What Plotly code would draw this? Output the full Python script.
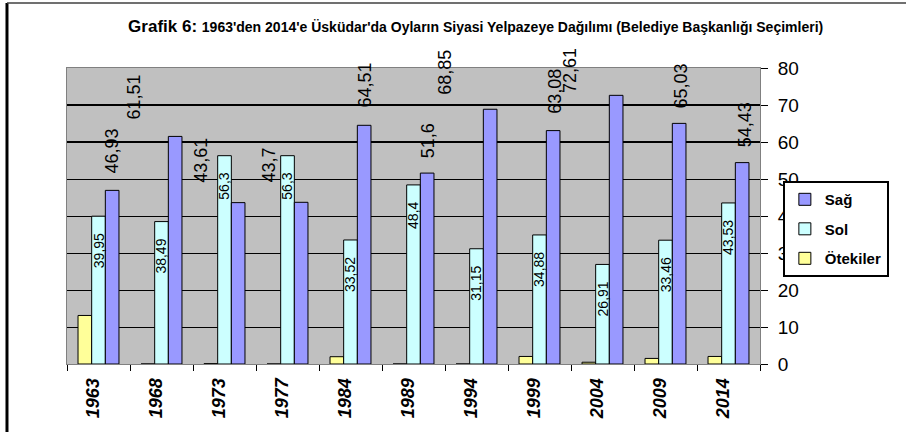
import plotly.graph_objects as go

# ---------------- data ----------------
years = ['1963', '1968', '1973', '1977', '1984', '1989', '1994', '1999', '2004', '2009', '2014']
sag = [46.93, 61.51, 43.61, 43.7, 64.51, 51.6, 68.85, 63.08, 72.61, 65.03, 54.43]
sol = [39.95, 38.49, 56.3, 56.3, 33.52, 48.4, 31.15, 34.88, 26.91, 33.46, 43.53]
otekiler = [13.12, 0, 0.09, 0, 1.97, 0, 0, 2.04, 0.48, 1.51, 2.04]
y_ticks = [0, 10, 20, 30, 40, 50, 60, 70, 80]
heavy_grid = [60, 70]

series_names = ['Sağ', 'Sol', 'Ötekiler']
title_main = 'Grafik 6:'
title_rest = "1963'den 2014'e Üsküdar'da Oyların Siyasi Yelpazeye Dağılımı (Belediye Başkanlığı Seçimleri)"

# ---------------- style ----------------
FONT = 'Liberation Sans, Arial, sans-serif'
C_SAG = '#9999FF'
C_SOL = '#CCFFFF'
C_OTE = '#FFFF99'
BG = '#C0C0C0'

# label offsets (pixels) reproducing the original label placement
sag_label_dx = [-0.5, -41.5, -36.5, -32.5, 0.5, 0.5, -45, 1.5, -46, 1.5, 3]
sag_label_gap = [15, 15, 18, 18, 16, 13, 12, 15, 0, 13, 13]
SAG_BAR_OFFSET = 13.6
SOL_LABEL_GAP = 15


def fmt(v):
    return f'{v:g}'.replace('.', ',')


fig = go.Figure()
for rank, name, vals, col in [(3, series_names[2], otekiler, C_OTE),
                              (2, series_names[1], sol, C_SOL),
                              (1, series_names[0], sag, C_SAG)]:
    fig.add_trace(go.Bar(
        x=years, y=vals, name=name, legendgroup=name, legendrank=rank,
        marker=dict(color=col, line=dict(color='black', width=1)),
        hoverinfo='x+y+name'))

annotations = []
for i, yr in enumerate(years):
    annotations.append(dict(
        x=i, y=sag[i], xref='x', yref='y', text=fmt(sag[i]), showarrow=False,
        textangle=-90, xanchor='center', yanchor='bottom',
        xshift=SAG_BAR_OFFSET + sag_label_dx[i], yshift=sag_label_gap[i],
        font=dict(family=FONT, size=18, color='black')))
    annotations.append(dict(
        x=i, y=sol[i], xref='x', yref='y', text=fmt(sol[i]), showarrow=False,
        textangle=-90, xanchor='center', yanchor='top',
        yshift=-SOL_LABEL_GAP,
        font=dict(family=FONT, size=14, color='black')))

shapes = [
    dict(type='line', xref='paper', yref='paper', x0=-0.0866, x1=-0.0866,
         y0=-0.3, y1=1.2196, line=dict(color='black', width=3)),
    dict(type='line', xref='paper', yref='paper', x0=-0.0866, x1=1.4,
         y0=1.2196, y1=1.2196, line=dict(color='#404040', width=1.5)),
]
for g in heavy_grid:
    shapes.append(dict(type='line', xref='paper', yref='y', x0=0, x1=1, y0=g, y1=g,
                       layer='below', line=dict(color='black', width=2.2)))

fig.update_layout(
    width=906, height=432,
    paper_bgcolor='white', plot_bgcolor=BG,
    margin=dict(l=67, r=146, t=68, b=68, autoexpand=False),
    barmode='group', bargap=0.35, bargroupgap=0,
    title=dict(
        text=f'<b>{title_main}</b> <b><span style="font-size:14px">{title_rest}</span></b>',
        x=0.525, xref='container', xanchor='center',
        y=0.94, yref='container', yanchor='middle',
        font=dict(family=FONT, size=17, color='black')),
    font=dict(family=FONT, color='black'),
    showlegend=True,
    legend=dict(
        x=1.033, y=0.618, xref='paper', yref='paper', xanchor='left', yanchor='top',
        bgcolor='white', bordercolor='black', borderwidth=2,
        traceorder='grouped', tracegroupgap=7,
        font=dict(family=FONT, size=15, color='black', weight='bold')),
    xaxis=dict(
        type='category', categoryorder='array', categoryarray=years,
        range=[-0.5, len(years) - 0.5],
        tickson='boundaries', ticks='outside', ticklen=6,
        tickcolor='black', tickwidth=1,
        tickangle=-90, ticklabelstandoff=6, ticklabelshift=-5,
        tickfont=dict(family=FONT, size=18, color='black', weight='bold', style='italic'),
        showline=True, linecolor='#808080', linewidth=1, mirror=True,
        showgrid=False, zeroline=False),
    yaxis=dict(
        side='right', range=[0, 80], tickvals=y_ticks,
        ticks='outside', ticklen=7, tickcolor='black', tickwidth=1,
        ticklabelstandoff=6,
        tickfont=dict(family=FONT, size=19, color='black'),
        showgrid=True, gridcolor='black', gridwidth=1,
        showline=True, linecolor='#808080', linewidth=1, mirror=True,
        zeroline=False),
    annotations=annotations,
    shapes=shapes,
)

fig.write_html('out.html',
               config={'displayModeBar': False},
               post_script="document.body.style.margin='0';document.body.style.overflow='hidden';")
